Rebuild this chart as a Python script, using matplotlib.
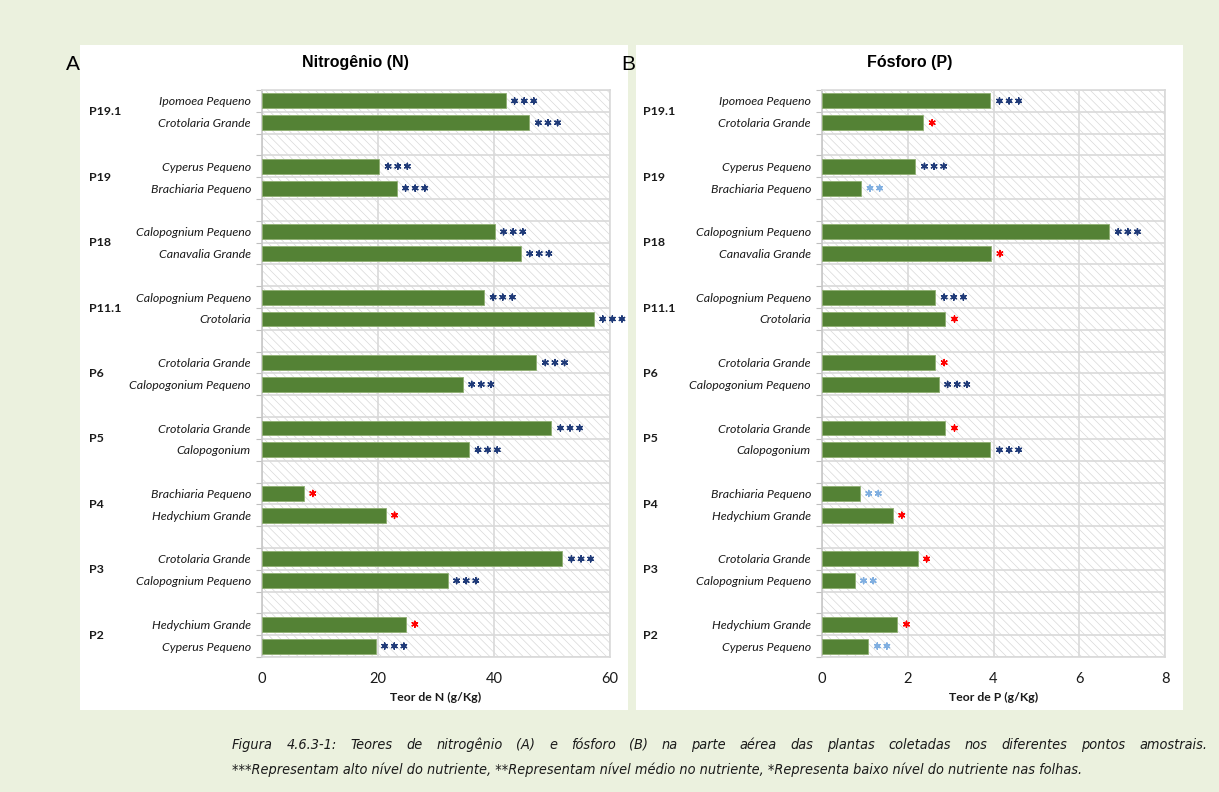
import matplotlib
matplotlib.use("Agg")
import matplotlib.pyplot as plt
from matplotlib.patches import Rectangle
from matplotlib.transforms import offset_copy

# pontos amostrais (de cima para baixo) e espécies em cada ponto
pontos = ["P19.1", "P19", "P18", "P11.1", "P6", "P5", "P4", "P3", "P2"]
especies = [
    ["Ipomoea Pequeno", "Crotolaria Grande"],
    ["Cyperus Pequeno", "Brachiaria Pequeno"],
    ["Calopognium Pequeno", "Canavalia Grande"],
    ["Calopognium Pequeno", "Crotolaria"],
    ["Crotolaria Grande", "Calopogonium Pequeno"],
    ["Crotolaria Grande", "Calopogonium"],
    ["Brachiaria Pequeno", "Hedychium Grande"],
    ["Crotolaria Grande", "Calopognium Pequeno"],
    ["Hedychium Grande", "Cyperus Pequeno"],
]

# teor de N (g/Kg)
teor_n = [42.0, 46.1, 20.2, 23.2, 40.1, 44.6, 38.3, 57.2, 47.3, 34.6,
          49.9, 35.7, 7.2, 21.3, 51.8, 32.0, 24.8, 19.6]
# teor de P (g/Kg)
teor_p = [3.93, 2.36, 2.18, 0.91, 6.70, 3.94, 2.64, 2.88, 2.64, 2.72,
          2.88, 3.93, 0.88, 1.65, 2.23, 0.76, 1.76, 1.08]

# nível do nutriente: 3 = alto (***), 2 = médio (**), 1 = baixo (*)
nivel_n = [3, 3, 3, 3, 3, 3, 3, 3, 3, 3, 3, 3, 1, 1, 3, 3, 1, 3]
nivel_p = [3, 1, 3, 2, 3, 1, 3, 1, 1, 3, 1, 3, 2, 1, 1, 2, 1, 2]

cor_nivel = {3: "#1F3A78", 2: "#7FAEE0", 1: "#FF0000"}

W, H = 1219, 792
FUNDO = "#EBF1DE"
VERDE = "#548235"
GRADE = "#D9D9D9"

plt.rcParams["hatch.linewidth"] = 0.5
plt.rcParams["font.family"] = ["Lato", "DejaVu Sans"]

fig = plt.figure(figsize=(W / 100, H / 100), dpi=100, facecolor=FUNDO)


def fx(px):
    return px / W


def fy(py):
    return 1 - py / H


# paineis brancos
for x0, x1 in [(80, 628), (636, 1183)]:
    fig.patches.append(Rectangle((fx(x0), fy(710)), fx(x1 - x0), (710 - 45) / H,
                                 transform=fig.transFigure, facecolor="white",
                                 edgecolor="none", zorder=-5))

# posições das linhas (com uma linha vazia entre pontos)
linhas = []
rotulos = []
centros = []
r = 0
for i, sp in enumerate(especies):
    centros.append(r + 0.5)
    for s in sp:
        linhas.append(r)
        rotulos.append(s)
        r += 1
    r += 1
n_linhas = r - 1


def painel(rect, valores, niveis, xmax, xstep, titulo, letra, xlabel,
           titulo_x, letra_x, grupo_off):
    ax = fig.add_axes(rect)
    ax.set_zorder(2)
    ax.set_facecolor("white")
    ax.add_patch(Rectangle((0, 0), 1, 1, transform=ax.transAxes,
                           facecolor="white", edgecolor="#D8D8D8", lw=0,
                           hatch="\\\\\\\\", zorder=0))
    ax.barh(linhas, valores, height=0.68, color=VERDE,
            edgecolor="#8FAF72", linewidth=0.6, zorder=3)

    # asteriscos de nível
    for k in range(3):
        tr = offset_copy(ax.transData, fig=fig, x=9 + 9.6 * k, y=0, units="dots")
        xs = [v for v, nv in zip(valores, niveis) if nv > k]
        ys = [l for l, nv in zip(linhas, niveis) if nv > k]
        cs = [cor_nivel[nv] for nv in niveis if nv > k]
        ax.scatter(xs, ys, marker=(6, 2, 0), s=19, c=cs, linewidths=1.05,
                   transform=tr, zorder=4, clip_on=False)

    ax.set_xlim(0, xmax)
    ax.set_ylim(n_linhas - 0.5, -0.5)
    ax.set_xticks(range(0, xmax + 1, xstep))
    ax.set_yticks(linhas)
    ax.set_yticklabels(rotulos, fontstyle="italic", fontsize=8.9, color="#1A1A1A")
    ax.set_yticks([b - 0.5 for b in range(n_linhas + 1)], minor=True)
    ax.tick_params(axis="y", which="major", length=0, pad=8)
    ax.tick_params(axis="y", which="minor", length=4, color="#BFBFBF", width=0.8)
    ax.tick_params(axis="x", length=0, pad=11, labelsize=10.5, labelcolor="#1A1A1A")
    ax.grid(axis="x", which="major", color=GRADE, lw=1.2, zorder=1)
    ax.grid(axis="y", which="minor", color=GRADE, lw=1.2, zorder=1)
    ax.set_axisbelow(True)
    for s in ax.spines.values():
        s.set_color(GRADE)
        s.set_linewidth(1.2)
    ax.spines["left"].set_color("#C8C8C8")

    ax.set_xlabel(xlabel, fontsize=8.8, fontweight="bold", labelpad=4, color="#1A1A1A")

    for p, c in zip(pontos, centros):
        ax.annotate(p, xy=(0, c), xycoords=("axes fraction", "data"),
                    xytext=(-grupo_off, 0), textcoords="offset pixels",
                    ha="left", va="center", fontsize=8.9, fontweight="bold",
                    color="#1A1A1A")

    fig.text(fx(titulo_x), fy(63), titulo, ha="center", va="center",
             fontsize=11.5, fontweight="bold", family="Liberation Sans")
    fig.text(fx(letra_x), fy(65), letra, ha="left", va="center",
             fontsize=15, family="Liberation Sans")
    return ax


painel([fx(262), fy(657), fx(610 - 262), (657 - 90) / H], teor_n, nivel_n,
       60, 20, "Nitrogênio (N)", "A", "Teor de N (g/Kg)", 355, 66, 173)
painel([fx(822), fy(657), fx(1165 - 822), (657 - 90) / H], teor_p, nivel_p,
       8, 2, "Fósforo (P)", "B", "Teor de P (g/Kg)", 910, 621, 179)

legenda = [
    "Figura 4.6.3-1: Teores de nitrogênio (A) e fósforo (B) na parte aérea das plantas coletadas nos diferentes pontos amostrais.",
    "***Representam alto nível do nutriente, **Representam nível médio no nutriente, *Representa baixo nível do nutriente nas folhas.",
]
estilo = dict(fontsize=10.4, fontstyle="italic", fontstretch="condensed",
              family="DejaVu Sans", color="#1A1A1A", va="center", ha="left")

# primeira linha justificada (palavra por palavra)
palavras = legenda[0].split()
textos = [fig.text(0, fy(745), p, **estilo) for p in palavras]
rend = fig.canvas.get_renderer()
larg = [t.get_window_extent(rend).width for t in textos]
x_ini, x_fim = 232, 1207
gap = (x_fim - x_ini - sum(larg)) / (len(palavras) - 1)
x = x_ini
for t, w in zip(textos, larg):
    t.set_x(fx(x))
    x += w + gap

fig.text(fx(232), fy(770), legenda[1], **estilo)

fig.savefig("out.png", dpi=100, facecolor=FUNDO)
